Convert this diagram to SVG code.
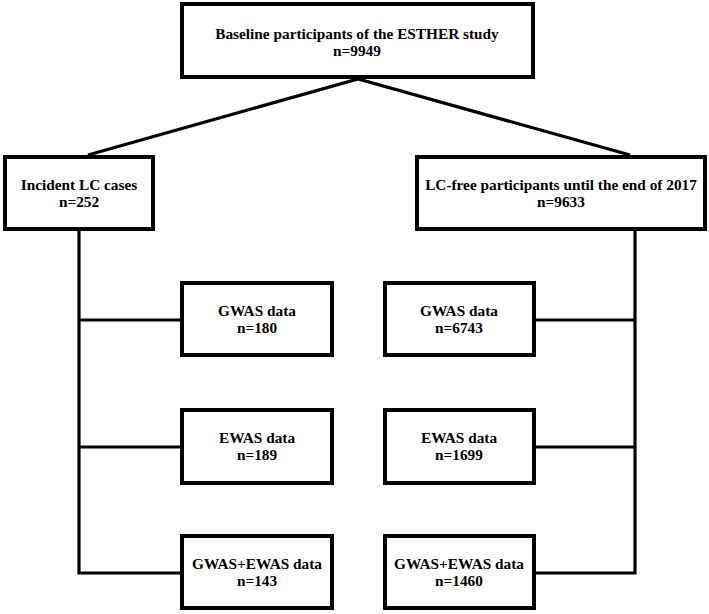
<svg xmlns="http://www.w3.org/2000/svg" width="709" height="614" viewBox="0 0 709 614">
<style>
.box{fill:#fff;stroke:#000;stroke-width:4}
.c{fill:none;stroke:#000;stroke-width:3.2}
text{font-family:"Liberation Serif","Times New Roman",serif;font-weight:bold;font-size:15.3px;fill:#000;text-anchor:middle}
</style>
<rect width="709" height="614" fill="#fff"/>
<g id="connectors">
<polyline class="c" points="88,155 358,79 630,155"/>
<polyline class="c" points="79,231 79,573 180,573"/>
<line class="c" x1="79" y1="320" x2="180" y2="320"/>
<line class="c" x1="79" y1="447" x2="180" y2="447"/>
<polyline class="c" points="635,230 635,573 536,573"/>
<line class="c" x1="635" y1="320" x2="536" y2="320"/>
<line class="c" x1="635" y1="447" x2="536" y2="447"/>
</g>
<g id="baseline">
<rect class="box" x="182" y="4" width="351" height="73"/>
<text x="357" y="39">Baseline participants of the ESTHER study</text>
<text x="357" y="56">n=9949</text>
</g>
<g id="cases">
<rect class="box" x="5" y="157" width="148" height="72"/>
<text x="79" y="190">Incident LC cases</text>
<text x="79" y="207">n=252</text>
</g>
<g id="free">
<rect class="box" x="417" y="157" width="288" height="72"/>
<text x="561" y="190">LC-free participants until the end of 2017</text>
<text x="561" y="207">n=9633</text>
</g>
<g id="cases-gwas">
<rect class="box" x="182" y="283" width="150" height="72"/>
<text x="257" y="316">GWAS data</text>
<text x="257" y="333">n=180</text>
</g>
<g id="cases-ewas">
<rect class="box" x="182" y="410" width="150" height="73"/>
<text x="257" y="443">EWAS data</text>
<text x="257" y="460">n=189</text>
</g>
<g id="cases-both">
<rect class="box" x="182" y="536" width="150" height="72"/>
<text x="257" y="569">GWAS+EWAS data</text>
<text x="257" y="586">n=143</text>
</g>
<g id="free-gwas">
<rect class="box" x="385" y="283" width="149" height="72"/>
<text x="459" y="316">GWAS data</text>
<text x="459" y="333">n=6743</text>
</g>
<g id="free-ewas">
<rect class="box" x="385" y="410" width="149" height="73"/>
<text x="459" y="443">EWAS data</text>
<text x="459" y="460">n=1699</text>
</g>
<g id="free-both">
<rect class="box" x="385" y="536" width="149" height="72"/>
<text x="459" y="569">GWAS+EWAS data</text>
<text x="459" y="586">n=1460</text>
</g>
</svg>
